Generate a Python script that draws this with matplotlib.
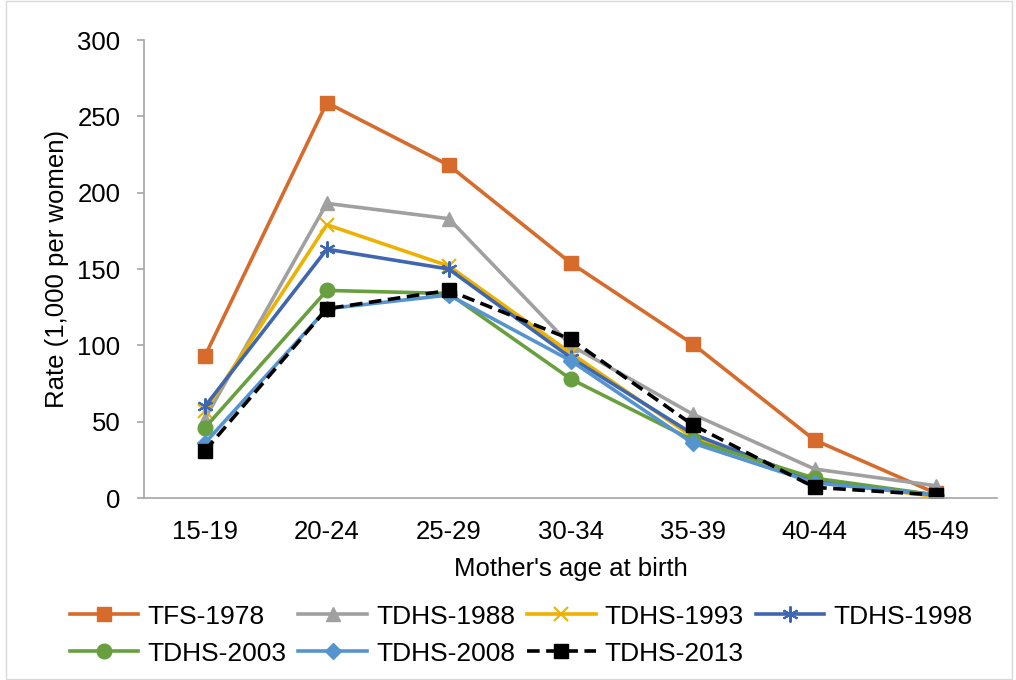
import matplotlib
matplotlib.use("Agg")
import matplotlib.pyplot as plt

plt.rcParams['font.family'] = ['Liberation Sans', 'DejaVu Sans']

categories = ["15-19", "20-24", "25-29", "30-34", "35-39", "40-44", "45-49"]
tfs_1978 = [93, 259, 218, 154, 101, 38, 3]
tdhs_1988 = [52, 193, 183, 100, 55, 19, 8]
tdhs_1993 = [57, 179, 152, 95, 40, 11, 1]
tdhs_1998 = [60, 163, 150, 92, 42, 11, 2]
tdhs_2003 = [46, 136, 134, 78, 38, 13, 2]
tdhs_2008 = [36, 124, 133, 90, 36, 10, 2]
tdhs_2013 = [31, 124, 136, 104, 48, 7, 2]

FS = 18.5

fig = plt.figure(figsize=(10.16, 6.8), dpi=100)
ax = fig.add_axes([0.1417, 0.2676, 0.840, 0.6735])

x = list(range(len(categories)))
lw = 2.6
ms = 9.5
ax.plot(x, tfs_1978, color='#D76B2C', lw=lw, marker='s', ms=ms, label='TFS-1978')
ax.plot(x, tdhs_1988, color='#A0A0A0', lw=lw, marker='^', ms=ms+1, label='TDHS-1988')
ax.plot(x, tdhs_1993, color='#EDB100', lw=lw, marker='x', ms=ms, mew=1.5, label='TDHS-1993')
ax.plot(x, tdhs_1998, color='#3F67AF', lw=lw, marker=(6, 2, 0), ms=ms+2, mew=1.5, label='TDHS-1998')
ax.plot(x, tdhs_2003, color='#69A03F', lw=lw, marker='o', ms=ms+1, label='TDHS-2003')
ax.plot(x, tdhs_2008, color='#5694D0', lw=lw, marker='D', ms=ms-1.5, label='TDHS-2008')
ax.plot(x, tdhs_2013, color='black', lw=lw, ls=(0, (3.5, 1.8)), marker='s', ms=ms, label='TDHS-2013')

ax.set_xlim(-0.5, len(categories) - 0.5)
ax.set_ylim(0, 300)
ax.set_yticks(range(0, 301, 50))
ax.set_xticks(x)
ax.set_xticklabels(categories)
ax.tick_params(axis='both', labelsize=FS)
ax.tick_params(axis='x', length=0, pad=16)
ax.tick_params(axis='y', length=5, width=1.2, color='#A6A6A6', pad=12)
for s in ['top', 'right']:
    ax.spines[s].set_visible(False)
for s in ['bottom', 'left']:
    ax.spines[s].set_color('#A6A6A6')
    ax.spines[s].set_linewidth(1.2)

ax.set_xlabel("Mother's age at birth", fontsize=FS, labelpad=9)
ax.set_ylabel("Rate (1,000 per women)", fontsize=FS, labelpad=6)

handles, labels = ax.get_legend_handles_labels()
order = [0, 4, 1, 5, 2, 6, 3]
leg = fig.legend([handles[i] for i in order], [labels[i] for i in order],
                 loc='center', bbox_to_anchor=(0.513, 0.066), ncol=4, fontsize=19,
                 frameon=False, handlelength=2.6, columnspacing=0.45, handletextpad=0.35,
                 labelspacing=0.5, borderpad=0)

fig.patches.append(plt.Rectangle((0.006, 0.001), 0.99, 0.998, transform=fig.transFigure,
                                 fill=False, edgecolor='#D9D9D9', lw=1))

fig.savefig('out.png', dpi=100)
